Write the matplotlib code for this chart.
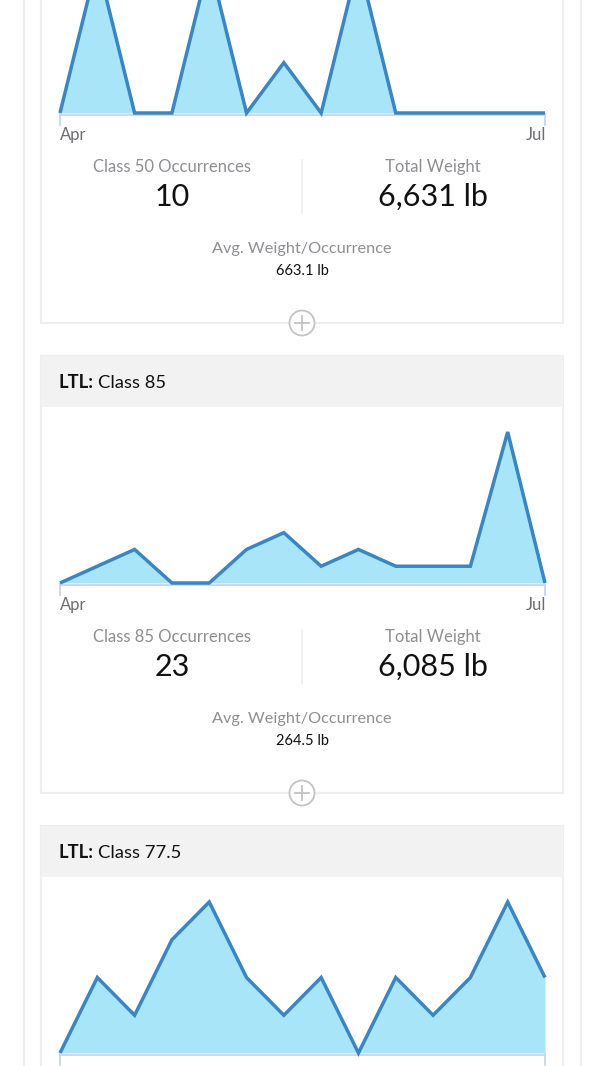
import matplotlib.pyplot as plt
from matplotlib.patches import Rectangle, Circle

plt.rcParams['font.family'] = ['Lato', 'DejaVu Sans']

# weekly occurrences, Apr -> Jul
weeks = list(range(14))
class50 = [0, 3, 0, 0, 3, 0, 1, 0, 3, 0, 0, 0, 0, 0]
class85 = [0, 1, 2, 0, 0, 2, 3, 1, 2, 1, 1, 1, 9, 0]
class775 = [0, 2, 1, 3, 4, 2, 1, 2, 0, 2, 1, 2, 4, 2]
x_labels = ["Apr", "Jul"]

titles = ["Class 50", "Class 85", "Class 77.5"]
occ_labels = ["Class 50 Occurrences", "Class 85 Occurrences", None]
occ_values = ["10", "23", None]
total_values = ["6,631 lb", "6,085 lb", None]
avg_values = ["663.1 lb", "264.5 lb", None]

W, H = 600, 1066
LINE = "#3a86c2"
FILL = "#a8e5f8"
AXIS = "#c8d6ee"
BORDER = "#eeeeee"
GREY_TXT = "#8e8e93"

fig = plt.figure(figsize=(W / 100, H / 100), dpi=100)
bg = fig.add_axes([0, 0, 1, 1])
bg.set_xlim(0, W)
bg.set_ylim(H, 0)
bg.axis("off")

# page frame
bg.plot([24, 24], [0, H], color=BORDER, lw=1.6)
bg.plot([581, 581], [0, H], color=BORDER, lw=1.6)

baselines = [113, 583, 1053]
series = [class50, class85, class775]
renderer = fig.canvas.get_renderer()

for i, (B, vals) in enumerate(zip(baselines, series)):
    # card body + header
    top = B - 227
    bottom = B + 210
    bg.add_patch(Rectangle((41, top), 522, bottom - top, facecolor="white",
                           edgecolor=BORDER, lw=1.6, zorder=1))
    bg.add_patch(Rectangle((41, top), 522, 51, facecolor="#f2f2f2",
                           edgecolor="none", zorder=2))
    if top + 26 > 0:
        t1 = bg.text(59, B - 200, "LTL:", fontsize=13.2, fontweight="bold",
                     color="#111111", va="center", ha="left", zorder=3)
        ext = t1.get_window_extent(renderer=renderer)
        bg.text(59 + ext.width + 4, B - 200, titles[i], fontsize=13.2,
                color="#111111", va="center", ha="left", zorder=3)

    # axis bracket
    bg.plot([60, 545], [B + 1.5, B + 1.5], color=AXIS, lw=1.3, zorder=3)
    bg.plot([60, 60], [B + 1, B + 12], color=AXIS, lw=1.3, zorder=3)
    bg.plot([545, 545], [B + 1, B + 12], color=AXIS, lw=1.3, zorder=3)
    if B + 30 < H:
        bg.text(60, B + 22, x_labels[0], fontsize=12, color="#6d6d72",
                ha="left", va="center", zorder=3)
        bg.text(546, B + 22, x_labels[1], fontsize=12, color="#6d6d72",
                ha="right", va="center", zorder=3)

    # sparkline
    ax = fig.add_axes([60 / W, (H - B) / H, 485 / W, 175 / H])
    ymax = max(vals)
    ax.set_xlim(0, len(vals) - 1)
    ax.set_ylim(0, ymax * 175 / 151)
    ax.fill_between(weeks, vals, 0, color=FILL, lw=0, zorder=1)
    ax.plot(weeks, vals, color=LINE, lw=2.5, solid_joinstyle="miter",
            solid_capstyle="butt", clip_on=False, zorder=2)
    ax.axis("off")

    if occ_values[i] is None:
        continue

    # stats
    bg.plot([302, 302], [B + 47, B + 100], color=BORDER, lw=1.2, zorder=3)
    bg.text(172, B + 54, occ_labels[i], fontsize=12, color=GREY_TXT,
            ha="center", va="center", zorder=3)
    bg.text(172, B + 84, occ_values[i], fontsize=22, color="#111111",
            ha="center", va="center", zorder=3)
    bg.text(433, B + 54, "Total Weight", fontsize=12, color=GREY_TXT,
            ha="center", va="center", zorder=3)
    bg.text(433, B + 84, total_values[i], fontsize=22, color="#111111",
            ha="center", va="center", zorder=3)
    bg.text(302, B + 136, "Avg. Weight/Occurrence", fontsize=11.7,
            color=GREY_TXT, ha="center", va="center", zorder=3)
    bg.text(302, B + 158, avg_values[i], fontsize=10.5, color="#111111",
            ha="center", va="center", zorder=3)

    # expand button
    bg.add_patch(Circle((302, bottom), 12.5, facecolor="white",
                        edgecolor="#c4c4c4", lw=1.3, zorder=4))
    bg.plot([295, 309], [bottom, bottom], color="#c4c4c4", lw=1.3, zorder=5)
    bg.plot([302, 302], [bottom - 7, bottom + 7], color="#c4c4c4", lw=1.3,
            zorder=5)

fig.savefig("out.png", dpi=100)
